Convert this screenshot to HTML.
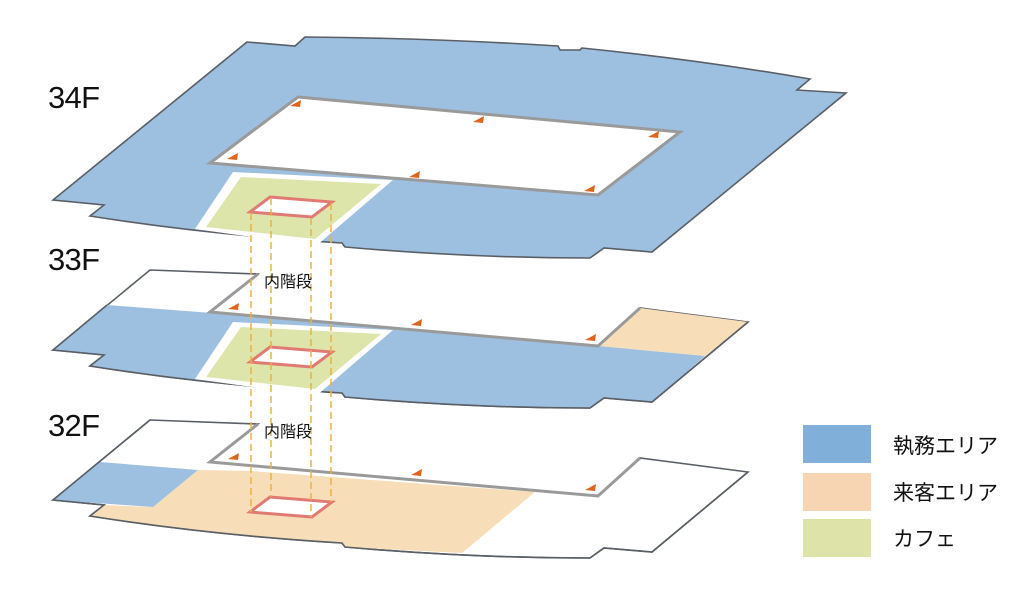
<!DOCTYPE html>
<html><head><meta charset="utf-8"><style>
body{margin:0;background:#fff}
svg{display:block}
text{font-family:"Liberation Sans","Noto Sans CJK JP",sans-serif}
</style></head><body>
<svg width="1024" height="589" viewBox="0 0 1024 589" xmlns="http://www.w3.org/2000/svg">
<defs>
<g id="arr"><polygon points="-6,2 5,-4 4,3" fill="#e0651c"/></g>
</defs>
<!-- 34F -->
<path d="M247,42 L295,46 L305,37 Q430,38 558,46 L560,50 L580,50 L582,48 Q700,60 810,79 L797,90 L846,93 L652,252 L604,248 L590,258 Q470,258 345,247 L342,243 Q210,235 90,216 L104,205 L53,200 Z" fill="#9dbfe0" stroke="#5a5f66" stroke-width="1.6"/>
<polygon points="298,97 680,132 598,195 210,163" fill="#fff" stroke="#9a9a9a" stroke-width="3"/>
<polygon points="233,172 393,180 316,246 195,229" fill="#fff"/>
<polygon points="241,177 381,184 315,239 206,227" fill="#dde5ab"/>
<polygon points="250,212 270,197 332,202 312,217" fill="#fff" stroke="#e07a72" stroke-width="3"/>
<use href="#arr" x="296" y="104"/><use href="#arr" x="233" y="157"/><use href="#arr" x="479" y="120"/><use href="#arr" x="654" y="135"/><use href="#arr" x="415" y="175"/><use href="#arr" x="590" y="189"/>

<!-- 33F -->
<path d="M150,270 L258,274 L210,312 L598,346 L640,308 L748,322 L652,402 L604,398 L590,408 Q470,408 345,397 L342,393 Q210,385 90,366 L104,355 L53,350 Z" fill="#fff" stroke="#5a5f66" stroke-width="1.6"/>
<polygon points="640,308 748,322 705,356 598,346" fill="#f8deb8"/>
<path d="M107,305 L212,313 L598,346 L705,356 L652,402 L604,398 L590,408 Q470,408 345,397 L342,393 Q210,385 90,366 L104,355 L53,350 Z" fill="#9dbfe0"/>
<path d="M748,322 L652,402 L604,398 L590,408 Q470,408 345,397 L342,393 Q210,385 90,366 L104,355 L53,350 L107,305" fill="none" stroke="#5a5f66" stroke-width="1.6"/>
<polyline points="258,274 210,312 598,346 640,308" fill="none" stroke="#9a9a9a" stroke-width="3"/>
<polygon points="233,322 393,330 316,396 195,379" fill="#fff"/>
<polygon points="241,327 381,334 315,389 206,377" fill="#dde5ab"/>
<polygon points="250,362 270,347 332,352 312,367" fill="#fff" stroke="#e07a72" stroke-width="3"/>
<use href="#arr" x="234" y="307"/><use href="#arr" x="417" y="323"/><use href="#arr" x="591" y="338"/>

<!-- 32F -->
<path d="M150,420 L258,424 L210,462 L598,496 L640,458 L748,472 L652,552 L604,548 L590,558 Q470,558 345,547 L342,543 Q210,535 90,516 L104,505 L53,500 Z" fill="#fff" stroke="#5a5f66" stroke-width="1.6"/>
<path d="M198,470 L250,471 L535,492 L462,553 L345,547 L342,543 Q210,535 90,516 L104,505 L153,507 Z" fill="#f8deb8"/>
<polygon points="100,462 198,470 153,507 53,500" fill="#9dbfe0"/>
<path d="M748,472 L652,552 L604,548 L590,558 Q470,558 345,547 L342,543 Q210,535 90,516 L104,505 L53,500 L150,420" fill="none" stroke="#5a5f66" stroke-width="1.6"/>
<polyline points="258,424 210,462 598,496 640,458" fill="none" stroke="#9a9a9a" stroke-width="3"/>
<polygon points="250,512 270,497 332,502 312,517" fill="#fff" stroke="#e07a72" stroke-width="3"/>
<use href="#arr" x="234" y="457"/><use href="#arr" x="417" y="473"/><use href="#arr" x="591" y="488"/>

<!-- dashed lines -->
<g stroke="#f0b040" stroke-width="1.5" stroke-dasharray="7,4" fill="none">
<line x1="251" y1="213" x2="251" y2="512"/>
<line x1="271" y1="198" x2="271" y2="497"/>
<line x1="311" y1="218" x2="311" y2="517"/>
<line x1="331" y1="203" x2="331" y2="502"/>
</g>
<text x="264" y="287" font-size="16" fill="#111">内階段</text>
<text x="264" y="437" font-size="16" fill="#111">内階段</text>

<text x="48" y="108" font-size="31" fill="#111" textLength="52">34F</text>
<text x="48" y="270" font-size="31" fill="#111" textLength="52">33F</text>
<text x="48" y="436" font-size="31" fill="#111" textLength="52">32F</text>

<!-- legend -->
<rect x="803" y="425" width="68" height="38" fill="#80b0da"/>
<rect x="803" y="473" width="68" height="38" fill="#f8d5b2"/>
<rect x="803" y="519" width="68" height="38" fill="#dde3a9"/>
<text x="893" y="453" font-size="21" fill="#111">執務エリア</text>
<text x="893" y="500" font-size="21" fill="#111">来客エリア</text>
<text x="893" y="546" font-size="21" fill="#111">カフェ</text>
</svg>
</body></html>
